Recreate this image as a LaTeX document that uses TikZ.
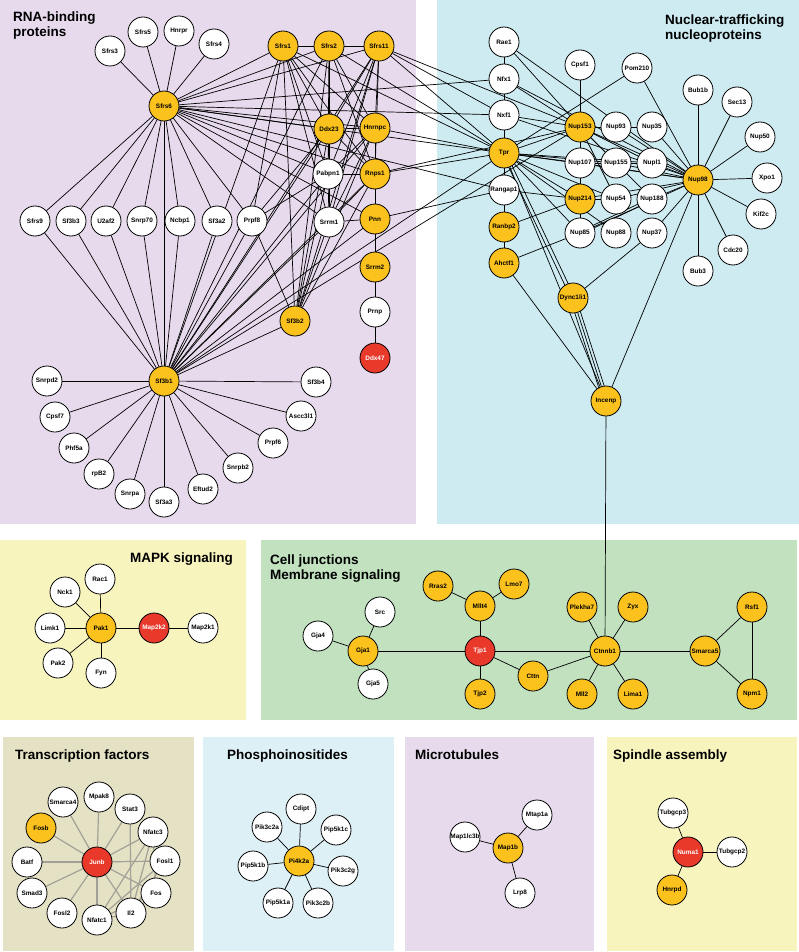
\documentclass[tikz,border=0pt]{standalone}
\usepackage{fontspec}
\setmainfont{Liberation Sans}
\pgfdeclarelayer{panel}
\pgfdeclarelayer{edge}
\pgfsetlayers{panel,edge,main}
\definecolor{pPurple}{HTML}{E7DAEC}
\definecolor{pBlue}{HTML}{CDEBF1}
\definecolor{pYellow}{HTML}{F8F4BE}
\definecolor{pGreen}{HTML}{C1E1BF}
\definecolor{pKhaki}{HTML}{E4E1C4}
\definecolor{pLBlue}{HTML}{DDF0F6}
\definecolor{nYel}{HTML}{FBC21E}
\definecolor{nRed}{HTML}{E8392B}
\definecolor{tfEdge}{HTML}{A3A197}
\tikzset{
 nd/.style={circle,draw=black,line width=0.8pt,fill=white,minimum size=30pt,inner sep=0pt,font=\fontsize{6.4}{7}\selectfont\bfseries},
 ye/.style={nd,fill=nYel},
 rd/.style={nd,fill=nRed,text=white},
 ed/.style={line width=0.7pt,black},
 ge/.style={line width=1.2pt,color=tfEdge},
 ttl/.style={font=\fontsize{13.5}{15}\selectfont\bfseries,inner sep=0pt,align=left}
}
\begin{document}
\begin{tikzpicture}[x=1pt,y=-1pt]
\useasboundingbox (0,0) rectangle (799,952);
\begin{pgfonlayer}{panel}
\fill[pPurple] (0,0) rectangle (416,524);
\fill[pBlue] (437,0) rectangle (799,524);
\fill[pYellow] (0,540) rectangle (246,720);
\fill[pGreen] (261,540) rectangle (797,720);
\fill[pKhaki] (3,737) rectangle (194,951);
\fill[pLBlue] (203,737) rectangle (394,951);
\fill[pPurple] (405,737) rectangle (594,951);
\fill[pYellow] (607,737) rectangle (797,951);
\end{pgfonlayer}

% titles
\node[ttl,anchor=north west] (tRNA) at (13,12) {RNA-binding\\proteins};
\node[ttl,anchor=north west] (tNuc) at (665,15) {Nuclear-trafficking\\nucleoproteins};
\node[ttl,anchor=north east] (tMAPK) at (233,553) {MAPK signaling};
\node[ttl,anchor=north west] (tCell) at (270,555) {Cell junctions\\Membrane signaling};
\node[ttl,anchor=north west] (tTF) at (15,750) {Transcription factors};
\node[ttl,anchor=north west] (tPh) at (227,750) {Phosphoinositides};
\node[ttl,anchor=north west] (tMt) at (415,750) {Microtubules};
\node[ttl,anchor=north west] (tSp) at (613,750) {Spindle assembly};

% RNA-binding nodes
\node[nd] (Sfrs3) at (110,51) {Sfrs3};
\node[nd] (Sfrs5) at (143,32) {Sfrs5};
\node[nd] (Hnrpr) at (179,31) {Hnrpr};
\node[nd] (Sfrs4) at (214,44) {Sfrs4};
\node[ye] (Sfrs6) at (164,106) {Sfrs6};
\node[nd] (Sfrs9) at (35,221) {Sfrs9};
\node[nd] (Sf3b3) at (71,221) {Sf3b3};
\node[nd] (U2af2) at (106,221) {U2af2};
\node[nd] (Snrp70) at (142,221) {Snrp70};
\node[nd] (Ncbp1) at (180,221) {Ncbp1};
\node[nd] (Sf3a2) at (217,221) {Sf3a2};
\node[nd] (Prpf8) at (252,221) {Prpf8};
\node[ye] (Sfrs1) at (283,46) {Sfrs1};
\node[ye] (Sfrs2) at (329,46) {Sfrs2};
\node[ye] (Sfrs11) at (379,46) {Sfrs11};
\node[ye] (Ddx23) at (329,129) {Ddx23};
\node[ye] (Hnrnpc) at (375,128) {Hnrnpc};
\node[nd] (Pabpn1) at (328,174) {Pabpn1};
\node[ye] (Rnps1) at (375,174) {Rnps1};
\node[nd] (Srrm1) at (329,222) {Srrm1};
\node[ye] (Pnn) at (375,219) {Pnn};
\node[ye] (Srrm2) at (375,267) {Srrm2};
\node[nd] (Prnp) at (375,312) {Prnp};
\node[rd] (Ddx47) at (375,358) {Ddx47};
\node[ye] (Sf3b2) at (295,321) {Sf3b2};
\node[ye] (Sf3b1) at (164,381) {Sf3b1};
\node[nd] (Snrpd2) at (47,381) {Snrpd2};
\node[nd] (Sf3b4) at (316,382) {Sf3b4};
\node[nd] (Cpsf7) at (55,417) {Cpsf7};
\node[nd] (Ascc3l1) at (301,416) {Ascc3l1};
\node[nd] (Phf5a) at (74,448) {Phf5a};
\node[nd] (Prpf6) at (273,443) {Prpf6};
\node[nd] (rpB2) at (99,474) {rpB2};
\node[nd] (Snrpb2) at (238,468) {Snrpb2};
\node[nd] (Snrpa) at (130,494) {Snrpa};
\node[nd] (Sf3a3) at (164,502) {Sf3a3};
\node[nd] (Eftud2) at (203,489) {Eftud2};

% Nuclear nodes
\node[nd] (Rae1) at (504,42) {Rae1};
\node[nd] (Nfx1) at (504,79) {Nfx1};
\node[nd] (Nxf1) at (504,115) {Nxf1};
\node[ye] (Tpr) at (504,153) {Tpr};
\node[nd] (Rangap1) at (504,190) {Rangap1};
\node[ye] (Ranbp2) at (504,227) {Ranbp2};
\node[ye] (Ahctf1) at (504,263) {Ahctf1};
\node[nd] (Cpsf1) at (580,65) {Cpsf1};
\node[nd] (Pom210) at (637,68) {Pom210};
\node[ye] (Nup153) at (580,127) {Nup153};
\node[nd] (Nup93) at (616,127) {Nup93};
\node[nd] (Nup35) at (652,127) {Nup35};
\node[nd] (Nup107) at (580,163) {Nup107};
\node[nd] (Nup155) at (616,163) {Nup155};
\node[nd] (Nupl1) at (652,163) {Nupl1};
\node[ye] (Nup214) at (580,199) {Nup214};
\node[nd] (Nup54) at (616,199) {Nup54};
\node[nd] (Nup188) at (652,199) {Nup188};
\node[nd] (Nup85) at (580,233) {Nup85};
\node[nd] (Nup88) at (616,233) {Nup88};
\node[nd] (Nup37) at (652,233) {Nup37};
\node[ye] (Nup98) at (698,180) {Nup98};
\node[nd] (Bub1b) at (698,90) {Bub1b};
\node[nd] (Sec13) at (737,102) {Sec13};
\node[nd] (Nup50) at (760,137) {Nup50};
\node[nd] (Xpo1) at (767,178) {Xpo1};
\node[nd] (Kif2c) at (761,214) {Kif2c};
\node[nd] (Cdc20) at (733,250) {Cdc20};
\node[nd] (Bub3) at (698,271) {Bub3};
\node[ye] (Dync1li1) at (573,298) {Dync1li1};
\node[ye] (Incenp) at (606,401) {Incenp};

% MAPK nodes
\node[nd] (Rac1) at (100,579) {Rac1};
\node[nd] (Nck1) at (65,592) {Nck1};
\node[nd] (Limk1) at (50,628) {Limk1};
\node[ye] (Pak1) at (101,628) {Pak1};
\node[rd] (Map2k2) at (154,628) {Map2k2};
\node[nd] (Map2k1) at (203,628) {Map2k1};
\node[nd] (Pak2) at (58,663) {Pak2};
\node[nd] (Fyn) at (101,673) {Fyn};

% Cell junction nodes
\node[nd] (Src) at (380,612) {Src};
\node[nd] (Gja4) at (318,636) {Gja4};
\node[ye] (Gja1) at (363,651) {Gja1};
\node[nd] (Gja5) at (373,684) {Gja5};
\node[ye] (Rras2) at (438,586) {Rras2};
\node[ye] (Mllt4) at (480,606) {Mllt4};
\node[ye] (Lmo7) at (514,584) {Lmo7};
\node[rd] (Tjp1) at (480,651) {Tjp1};
\node[ye] (Tjp2) at (480,694) {Tjp2};
\node[ye] (Cttn) at (533,676) {Cttn};
\node[ye] (Plekha7) at (582,607) {Plekha7};
\node[ye] (Zyx) at (633,607) {Zyx};
\node[ye] (Ctnnb1) at (605,651) {Ctnnb1};
\node[ye] (Mll2) at (582,694) {Mll2};
\node[ye] (Lima1) at (633,694) {Lima1};
\node[ye] (Smarca5) at (705,651) {Smarca5};
\node[ye] (Rsf1) at (752,607) {Rsf1};
\node[ye] (Npm1) at (752,694) {Npm1};

% Transcription factor nodes
\node[nd] (Smarca4) at (63,802) {Smarca4};
\node[nd] (Mpak8) at (99,797) {Mpak8};
\node[nd] (Stat3) at (130,809) {Stat3};
\node[nd] (Nfatc3) at (153,832) {Nfatc3};
\node[ye] (Fosb) at (41,828) {Fosb};
\node[nd] (Batf) at (27,862) {Batf};
\node[rd] (Junb) at (97,862) {Junb};
\node[nd] (Fosl1) at (165,861) {Fosl1};
\node[nd] (Smad3) at (32,893) {Smad3};
\node[nd] (Fos) at (156,893) {Fos};
\node[nd] (Fosl2) at (62,913) {Fosl2};
\node[nd] (Nfatc1) at (97,920) {Nfatc1};
\node[nd] (Il2) at (131,913) {Il2};

% Phosphoinositides nodes
\node[nd] (Cdipt) at (301,809) {Cdipt};
\node[nd] (Pik3c2a) at (267,827) {Pik3c2a};
\node[nd] (Pip5k1c) at (336,830) {Pip5k1c};
\node[ye] (Pi4k2a) at (299,861) {Pi4k2a};
\node[nd] (Pip5k1b) at (253,866) {Pip5k1b};
\node[nd] (Pik3c2g) at (343,871) {Pik3c2g};
\node[nd] (Pip5k1a) at (278,903) {Pip5k1a};
\node[nd] (Pik3c2b) at (318,903) {Pik3c2b};

% Microtubule nodes
\node[nd] (Mtap1a) at (537,815) {Mtap1a};
\node[nd] (Map1lc3b) at (465,837) {Map1lc3b};
\node[ye] (Map1b) at (508,848) {Map1b};
\node[nd] (Lrp8) at (520,893) {Lrp8};

% Spindle nodes
\node[nd] (Tubgcp3) at (673,813) {Tubgcp3};
\node[rd] (Numa1) at (688,852) {Numa1};
\node[nd] (Tubgcp2) at (732,852) {Tubgcp2};
\node[ye] (Hnrpd) at (672,890) {Hnrpd};

\begin{pgfonlayer}{edge}
% RNA hub Sfrs6
\foreach \b in {Sfrs3,Sfrs5,Hnrpr,Sfrs4,Sfrs9,Sf3b3,U2af2,Snrp70,Ncbp1,Sf3a2,Prpf8,Sf3b1,Sfrs1,Sfrs2,Sfrs11,Nfx1,Ddx23,Hnrnpc,Tpr,Nxf1,Rangap1,Rnps1,Pabpn1,Pnn,Srrm1}
  \draw[ed] (Sfrs6) -- (\b);
% Sf3b1 hub
\foreach \b in {Sfrs9,Sf3b3,U2af2,Snrp70,Ncbp1,Sf3a2,Prpf8,Sfrs1,Sfrs2,Sfrs11,Ddx23,Hnrnpc,Pabpn1,Rnps1,Srrm1,Pnn,Sf3b2,Tpr,Nup153,Snrpd2,Cpsf7,Phf5a,rpB2,Snrpa,Sf3a3,Eftud2,Snrpb2,Prpf6,Ascc3l1,Sf3b4}
  \draw[ed] (Sf3b1) -- (\b);
% Sf3b2
\foreach \b in {Sfrs1,Sfrs2,Sfrs11,Ddx23,Hnrnpc,Pabpn1,Srrm1,Rnps1,Prpf8}
  \draw[ed] (Sf3b2) -- (\b);
% other RNA edges
\foreach \a/\b in {Sfrs1/Sfrs2,Sfrs2/Sfrs11,Sfrs1/Ddx23,Sfrs1/Pabpn1,Sfrs1/Srrm1,Sfrs1/Rnps1,Sfrs1/Hnrnpc,Sfrs1/Tpr,Sfrs1/Prpf8,
  Sfrs2/Ddx23,Sfrs2/Hnrnpc,Sfrs2/Pabpn1,Sfrs2/Rnps1,Sfrs2/Srrm1,Sfrs2/Tpr,
  Sfrs11/Hnrnpc,Sfrs11/Ddx23,Sfrs11/Pabpn1,Sfrs11/Srrm1,Sfrs11/Rnps1,Sfrs11/Tpr,Sfrs11/Nup153,Sfrs11/Nxf1,
  Ddx23/Hnrnpc,Ddx23/Pabpn1,Ddx23/Rnps1,Ddx23/Srrm1,Prpf8/Ddx23,Prpf8/Pabpn1,
  Hnrnpc/Rnps1,Hnrnpc/Pabpn1,Hnrnpc/Srrm1,Hnrnpc/Tpr,
  Pabpn1/Rnps1,Pabpn1/Srrm1,Rnps1/Pnn,Rnps1/Srrm1,Rnps1/Tpr,Rnps1/Nup153,Srrm1/Pnn,
  Pnn/Srrm2,Pnn/Rangap1,Srrm2/Prnp,Prnp/Ddx47}
  \draw[ed] (\a) -- (\b);
% Nuclear edges
\foreach \a/\b in {Rae1/Nfx1,Nfx1/Nxf1,Nxf1/Tpr,Tpr/Rangap1,Rangap1/Ranbp2,Ranbp2/Ahctf1,Cpsf1/Nup153,
  Rae1/Nup153,Rae1/Nup98,Nfx1/Nup153,Nfx1/Nup98,Nxf1/Nup153,Nxf1/Nup98,Pom210/Tpr,Pom210/Nup98,
  Nup214/Nup107,Nup214/Nup85,Nup214/Nup54,Nup214/Ranbp2,Nup214/Rangap1,
  Nup93/Nup35,Nup107/Nup155,Nup155/Nupl1,Ahctf1/Nup85,Ahctf1/Incenp,Dync1li1/Nup37,Incenp/Nup98}
  \draw[ed] (\a) -- (\b);
\foreach \b in {Nup153,Nup107,Nup214,Nup98,Nup155,Nupl1,Nup54,Nup85,Nup88,Incenp}
  \draw[ed] (Tpr) -- (\b);
\foreach \b in {Nup93,Nup107,Nup98,Nup155,Nupl1,Nup188,Nup54}
  \draw[ed] (Nup153) -- (\b);
\foreach \b in {Bub1b,Sec13,Nup50,Xpo1,Kif2c,Cdc20,Bub3,Nup35,Nupl1,Nup188,Nup37,Nup85,Nup54,Nup155,Nup93,Nup107,Nup214}
  \draw[ed] (Nup98) -- (\b);
\draw[ed] ([xshift=-2pt]Tpr.center) -- ([xshift=-2pt]Dync1li1.center);
\draw[ed] ([xshift=2pt]Tpr.center) -- ([xshift=2pt]Dync1li1.center);
\draw[ed] ([xshift=-3pt]Dync1li1.center) -- ([xshift=-3pt]Incenp.center);
\draw[ed] (Dync1li1) -- (Incenp);
\draw[ed] ([xshift=3pt]Dync1li1.center) -- ([xshift=3pt]Incenp.center);
\draw[ed] ([yshift=-1.5pt]Nup85.center) -- ([yshift=-1.5pt]Nup188.center);
\draw[ed] ([yshift=1.5pt]Nup85.center) -- ([yshift=1.5pt]Nup188.center);
\draw[ed] (Incenp) -- (Ctnnb1);
% MAPK
\foreach \b in {Rac1,Nck1,Limk1,Map2k2,Pak2,Fyn}
  \draw[ed] (Pak1) -- (\b);
\draw[ed] (Map2k2) -- (Map2k1);
% Cell junctions
\foreach \a/\b in {Gja1/Src,Gja1/Gja4,Gja1/Gja5,Gja1/Tjp1,Tjp1/Mllt4,Mllt4/Rras2,Mllt4/Lmo7,Tjp1/Tjp2,Tjp1/Cttn,Tjp1/Ctnnb1,Cttn/Ctnnb1,
  Ctnnb1/Plekha7,Ctnnb1/Zyx,Ctnnb1/Mll2,Ctnnb1/Lima1,Ctnnb1/Smarca5,Smarca5/Rsf1,Smarca5/Npm1,Rsf1/Npm1}
  \draw[ed] (\a) -- (\b);
% Transcription factors
\foreach \b in {Smarca4,Mpak8,Stat3,Nfatc3,Fosb,Batf,Fosl1,Smad3,Fos,Fosl2,Nfatc1,Il2}
  \draw[ge] (Junb) -- (\b);
\foreach \a/\b in {Stat3/Il2,Nfatc3/Nfatc1,Nfatc3/Il2,Nfatc3/Fos,Fosl1/Nfatc1,Fosl1/Il2,Fos/Nfatc1,Fos/Il2,Nfatc1/Il2}
  \draw[ge] (\a) -- (\b);
% Phosphoinositides
\foreach \b in {Cdipt,Pik3c2a,Pip5k1c,Pip5k1b,Pik3c2g,Pip5k1a,Pik3c2b}
  \draw[ed] (Pi4k2a) -- (\b);
% Microtubules
\foreach \b in {Mtap1a,Map1lc3b,Lrp8}
  \draw[ed] (Map1b) -- (\b);
% Spindle
\foreach \b in {Tubgcp3,Tubgcp2,Hnrpd}
  \draw[ed] (Numa1) -- (\b);
\end{pgfonlayer}
\end{tikzpicture}
\end{document}
